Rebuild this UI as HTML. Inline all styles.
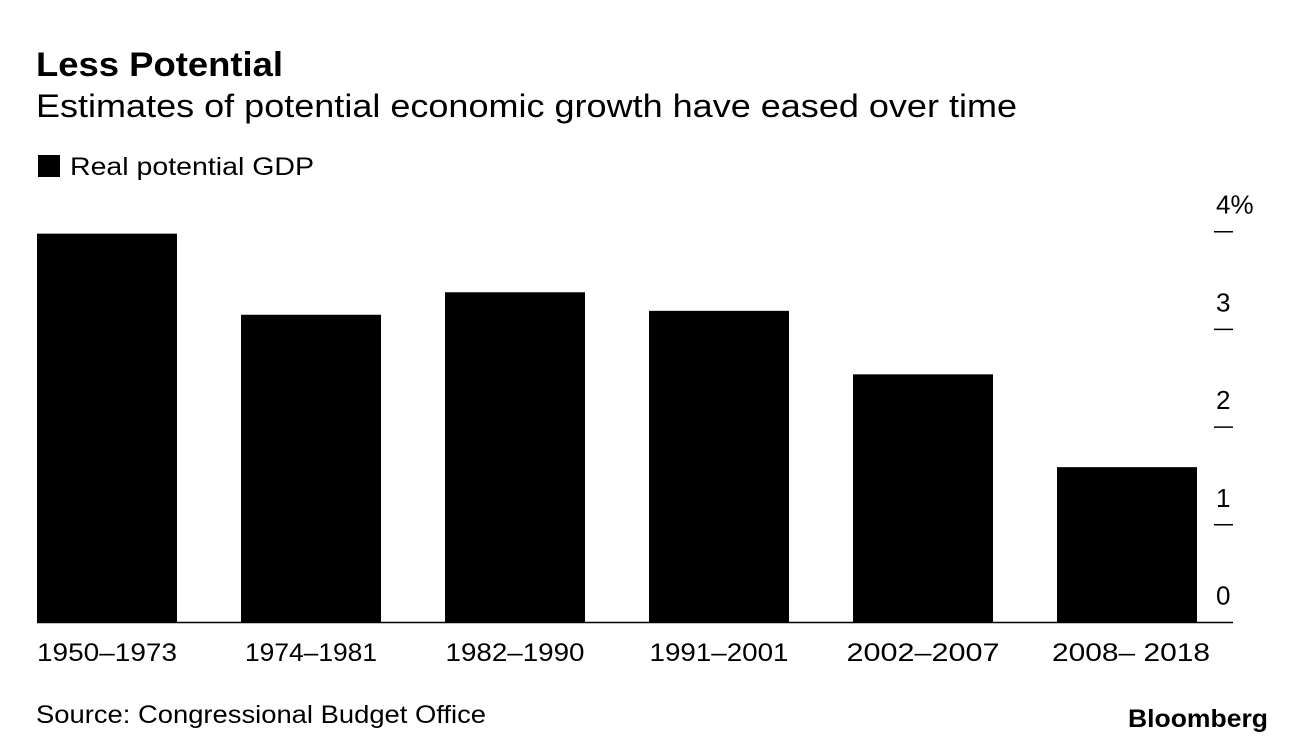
<!DOCTYPE html>
<html><head><meta charset="utf-8"><style>
body{margin:0;background:#fff;font-family:"Liberation Sans",Arial,sans-serif;color:#000}
svg{display:block}
text{font-family:"Liberation Sans",Arial,sans-serif}
</style></head><body>
<svg width="1296" height="744" viewBox="0 0 1296 744">
<text x="36" y="76" font-size="34" font-weight="bold" textLength="247" lengthAdjust="spacingAndGlyphs">Less Potential</text>
<text x="36" y="117" font-size="32" textLength="981" lengthAdjust="spacingAndGlyphs">Estimates of potential economic growth have eased over time</text>
<rect x="38" y="155" width="22" height="22" fill="#000"/>
<text x="70" y="175" font-size="25" textLength="244" lengthAdjust="spacingAndGlyphs">Real potential GDP</text>
<g id="bars"></g>
<g id="axis"></g>
<text x="36" y="723" font-size="25" textLength="450" lengthAdjust="spacingAndGlyphs">Source: Congressional Budget Office</text>
<text x="1128" y="727" font-size="25" font-weight="bold" textLength="140" lengthAdjust="spacingAndGlyphs">Bloomberg</text>
</svg>
<script>
const categories=["1950–1973","1974–1981","1982–1990","1991–2001","2002–2007","2008– 2018"];
const values=[3.98,3.15,3.38,3.19,2.54,1.59];
const yTicks=[0,1,2,3,4];
const yTickLabels=["0","1","2","3","4%"];
const NS="http://www.w3.org/2000/svg";
const y0=622.5,pxPerUnit=97.7;
function yScale(v){return y0-v*pxPerUnit;}
function xScale(i){return 37+i*204;}
const barW=140;
const labelW=[140,132,139,139,153,158];
const bars=document.getElementById('bars');
categories.forEach((c,i)=>{
  const r=document.createElementNS(NS,'rect');
  r.setAttribute('x',xScale(i));r.setAttribute('y',yScale(values[i]));
  r.setAttribute('width',barW);r.setAttribute('height',y0-yScale(values[i]));
  r.setAttribute('fill','#000');
  
  
  bars.appendChild(r);
  const t=document.createElementNS(NS,'text');
  t.setAttribute('x',xScale(i)+barW/2-labelW[i]/2+(i===5?4:0));t.setAttribute('y',661);
  t.setAttribute('font-size','25');
  t.setAttribute('textLength', labelW[i]);
  t.setAttribute('lengthAdjust','spacingAndGlyphs');
  t.textContent=c;
  
  
  bars.appendChild(t);
});
const axis=document.getElementById('axis');
const base=document.createElementNS(NS,'line');
base.setAttribute('x1',37);base.setAttribute('x2',1233);base.setAttribute('y1',y0);base.setAttribute('y2',y0);
base.setAttribute('stroke','#000');base.setAttribute('stroke-width','1.5');


axis.appendChild(base);
yTicks.forEach((v,i)=>{
  const y=yScale(v);
  if(v!==0){
    const l=document.createElementNS(NS,'line');
    l.setAttribute('x1',1214);l.setAttribute('x2',1233);l.setAttribute('y1',y);l.setAttribute('y2',y);
    l.setAttribute('stroke','#000');l.setAttribute('stroke-width','1.5');
    
    
    axis.appendChild(l);
  }
  const t=document.createElementNS(NS,'text');
  t.setAttribute('x',1216);t.setAttribute('y',y-18);t.setAttribute('font-size','26');
  t.textContent=yTickLabels[i];
  
  
  axis.appendChild(t);
});
</script>
</body></html>
